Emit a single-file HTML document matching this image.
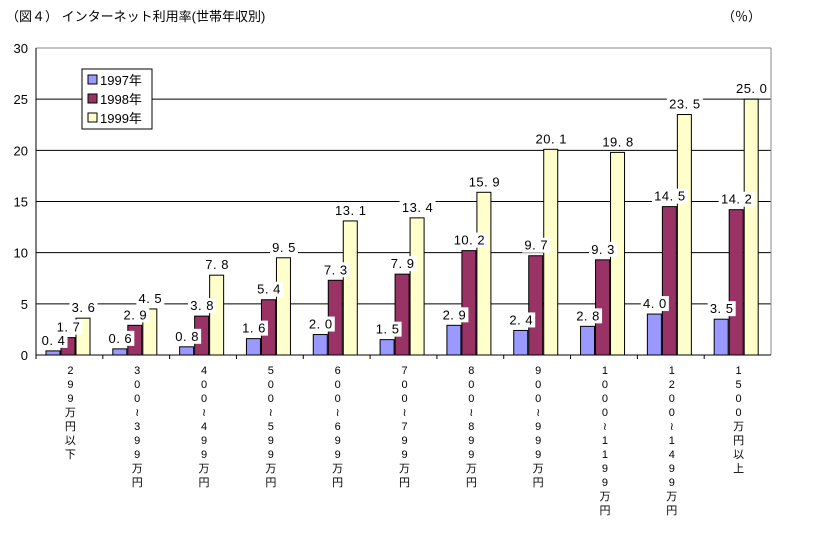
<!DOCTYPE html>
<html><head><meta charset="utf-8"><style>
body{margin:0;background:#fff;width:827px;height:530px;overflow:hidden;font-family:"Liberation Sans","Noto Sans CJK JP",sans-serif}
svg text{font-family:"Liberation Sans","Noto Sans CJK JP",sans-serif}
</style></head><body>
<svg id="c" width="827" height="530">
<text x="6" y="21" font-size="13">（図４） インターネット利用率(世帯年収別)</text>
<text x="722" y="21" font-size="13">（％）</text>
</svg>
<script>
const categories=["299万円以下","300≀399万円","400≀499万円","500≀599万円","600≀699万円","700≀799万円","800≀899万円","900≀999万円","1000≀1199万円","1200≀1499万円","1500万円以上"];
const s1997=[0.4,0.6,0.8,1.6,2.0,1.5,2.9,2.4,2.8,4.0,3.5];
const s1998=[1.7,2.9,3.8,5.4,7.3,7.9,10.2,9.7,9.3,14.5,14.2];
const s1999=[3.6,4.5,7.8,9.5,13.1,13.4,15.9,20.1,19.8,23.5,25.0];
const yTicks=[0,5,10,15,20,25,30];
const seriesNames=["1997年","1998年","1999年"];
const svg=document.getElementById('c');const NS="http://www.w3.org/2000/svg";
const L=36,R=771,T=48,B=355,yMax=30;
const y=v=>B-(v/yMax)*(B-T);
const cw=(R-L)/categories.length;
const x=i=>L+i*cw;
function mk(t,a,p){const e=document.createElementNS(NS,t);for(const k in a)e.setAttribute(k,a[k]);(p||svg).appendChild(e);return e;}
yTicks.forEach(v=>{
 if(v>0&&v<yMax){const g=mk('line',{x1:L,x2:R,y1:y(v),y2:y(v),stroke:'#000','stroke-width':1});
 
 }
 const t=mk('text',{x:L-8,y:y(v)+5,'font-size':13,'text-anchor':'end'});t.textContent=v;
 
 
});
mk('line',{x1:L,x2:R,y1:T,y2:T,stroke:'#888'});
mk('line',{x1:R,x2:R,y1:T,y2:B,stroke:'#888'});
mk('line',{x1:L,x2:L,y1:T,y2:B,stroke:'#000'});
mk('line',{x1:L,x2:R,y1:B,y2:B,stroke:'#000'});
const series=[s1997,s1998,s1999];const cols=['#9999ff','#993366','#ffffcc'];
const bw=15;
const labels=[];
categories.forEach((c,i)=>{
 mk('line',{x1:x(i),x2:x(i),y1:B,y2:B+4,stroke:'#000'});
 series.forEach((s,j)=>{
  const bx=x(i)+10+j*bw,by=y(s[i]);
  const r=mk('rect',{x:bx,y:by,width:bw-1,height:B-by,fill:cols[j],stroke:'#000','stroke-width':1});
  
  
  labels.push([bx+bw/2,by-6,s[i].toFixed(1)]);
 });
 [...c].forEach((ch,k)=>{const t=mk('text',{x:x(i)+cw/2+1,y:374+k*14,'font-size':11,'text-anchor':'middle'});t.textContent=ch;
  
  });
});
labels.forEach(l=>{
 const g=mk('g',{});
 
 
 const w=l[2].length>3?36:28;
 mk('rect',{x:l[0]-w/2,y:l[1]-12,width:w,height:15,fill:'#fff'},g);
 const t=mk('text',{x:l[0],y:l[1],'font-size':13,'text-anchor':'middle','letter-spacing':'0.5'},g);t.textContent=l[2].replace('.','. ');
});
const lg=mk('g',{});


mk('rect',{x:82,y:69,width:70,height:60,fill:'#fff',stroke:'#000'},lg);
seriesNames.forEach((n,j)=>{
 const e=mk('g',{},lg);
 
 
 mk('rect',{x:88,y:75+j*19,width:9,height:9,fill:cols[j],stroke:'#000'},e);
 const t=mk('text',{x:100,y:85+j*19,'font-size':13},e);t.textContent=n;
});
</script>
</body></html>
